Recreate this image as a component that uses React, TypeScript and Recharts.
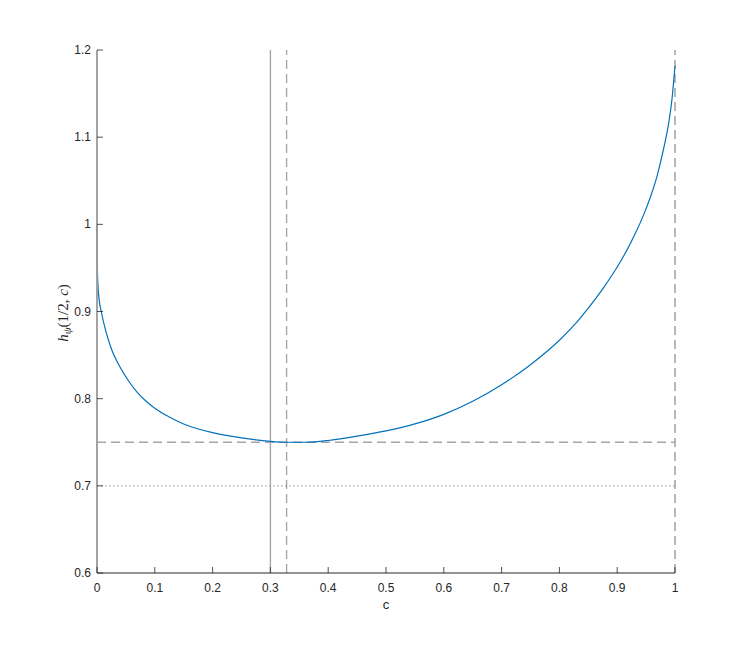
import { CartesianGrid, ComposedChart, Line, ReferenceLine, XAxis, YAxis } from "recharts";

// curve h_psi(1/2, c)
const cValues = [
  0, 0.0005, 0.0015, 0.0035, 0.008, 0.015, 0.025, 0.04, 0.055, 0.07, 0.085, 0.1, 0.125, 0.15, 0.2,
  0.25, 0.3, 0.33, 0.36, 0.4, 0.45, 0.5, 0.55, 0.6, 0.65, 0.7, 0.75, 0.8, 0.825, 0.85, 0.875, 0.9,
  0.925, 0.95, 0.97, 0.98, 0.99, 0.995, 1,
];
const hValues = [
  1.0, 0.955, 0.932, 0.915, 0.898, 0.878, 0.857, 0.836, 0.82, 0.807, 0.797, 0.789, 0.779, 0.771,
  0.761, 0.755, 0.751, 0.75, 0.75, 0.752, 0.757, 0.763, 0.771, 0.782, 0.797, 0.816, 0.839, 0.867,
  0.884, 0.904, 0.926, 0.951, 0.981, 1.018, 1.058, 1.086, 1.12, 1.145, 1.182,
];

const xTicks = [0, 0.1, 0.2, 0.3, 0.4, 0.5, 0.6, 0.7, 0.8, 0.9, 1];
const yTicks = [0.6, 0.7, 0.8, 0.9, 1, 1.1, 1.2];

const solidMarker = 0.3;
const dashedMarker = 0.328;
const dashedLevel = 0.75;
const dottedLevel = 0.7;

const data = cValues.map((c, i) => ({ c, h: hValues[i] }));

const AXIS = "#262626";
const GUIDE = "#a6a6a6";
const FONT = "'Liberation Sans', Arial, sans-serif";

function BottomTick({ x, y, payload }: any) {
  return (
    <g>
      <line x1={x} x2={x} y1={y} y2={y - 6} stroke={AXIS} strokeWidth={0.8} />
      <text x={x} y={y + 19} textAnchor="middle" fill={AXIS} fontSize={12} fontFamily={FONT}>
        {String(payload.value)}
      </text>
    </g>
  );
}

function TopTick({ x, y }: any) {
  return <line x1={x} x2={x} y1={y} y2={y + 6} stroke={AXIS} strokeWidth={0.8} />;
}

function LeftTick({ x, y, payload }: any) {
  return (
    <g>
      <line x1={x} x2={x + 6} y1={y} y2={y} stroke={AXIS} strokeWidth={0.8} />
      <text x={x - 6} y={y + 4} textAnchor="end" fill={AXIS} fontSize={12} fontFamily={FONT}>
        {String(payload.value)}
      </text>
    </g>
  );
}

function RightTick({ x, y }: any) {
  return <line x1={x} x2={x - 6} y1={y} y2={y} stroke={AXIS} strokeWidth={0.8} />;
}

export default function App() {
  return (
    <div style={{ position: "absolute", left: 0, top: 0, background: "#fff" }}>
      <ComposedChart
        width={747}
        height={645}
        data={data}
        margin={{ top: 50, right: 72, bottom: 0, left: 0 }}
      >
        <CartesianGrid stroke="none" />
        <XAxis
          xAxisId="bottom"
          type="number"
          dataKey="c"
          domain={[0, 1]}
          ticks={xTicks}
          height={72}
          tickSize={0}
          tickMargin={0}
          tickLine={false}
          axisLine={{ stroke: AXIS, strokeWidth: 1 }}
          tick={<BottomTick />}
          interval={0}
        />
        <XAxis
          xAxisId="top"
          orientation="top"
          type="number"
          domain={[0, 1]}
          ticks={xTicks}
          height={0}
          tickSize={0}
          tickMargin={0}
          tickLine={false}
          axisLine={{ stroke: AXIS, strokeWidth: 1 }}
          tick={<TopTick />}
          interval={0}
        />
        {/* the left edge is covered by a grey guide at c = 0 */}
        <YAxis
          yAxisId="left"
          type="number"
          domain={[0.6, 1.2]}
          ticks={yTicks}
          width={97}
          tickSize={0}
          tickMargin={0}
          tickLine={false}
          axisLine={{ stroke: "#9a9a9a", strokeWidth: 1.8 }}
          tick={<LeftTick />}
          interval={0}
        />
        <YAxis
          yAxisId="right"
          orientation="right"
          type="number"
          domain={[0.6, 1.2]}
          ticks={yTicks}
          width={0}
          tickSize={0}
          tickMargin={0}
          tickLine={false}
          axisLine={{ stroke: AXIS, strokeWidth: 1 }}
          tick={<RightTick />}
          interval={0}
        />

        <ReferenceLine xAxisId="bottom" yAxisId="left" x={solidMarker} stroke={GUIDE} strokeWidth={1.4} />
        <ReferenceLine
          xAxisId="bottom"
          yAxisId="left"
          x={dashedMarker}
          stroke={GUIDE}
          strokeWidth={1.4}
          strokeDasharray="9 5"
        />
        <ReferenceLine
          xAxisId="bottom"
          yAxisId="left"
          x={1}
          stroke={GUIDE}
          strokeWidth={1.6}
          strokeDasharray="9 5"
        />
        <ReferenceLine
          xAxisId="bottom"
          yAxisId="left"
          y={dashedLevel}
          stroke={GUIDE}
          strokeWidth={1.4}
          strokeDasharray="9 5"
        />
        <ReferenceLine
          xAxisId="bottom"
          yAxisId="left"
          y={dottedLevel}
          stroke={GUIDE}
          strokeWidth={1.2}
          strokeDasharray="1.5 2.5"
        />

        <Line
          xAxisId="bottom"
          yAxisId="left"
          type="monotone"
          dataKey="h"
          stroke="#0072BD"
          strokeWidth={1.2}
          dot={false}
          activeDot={false}
          isAnimationActive={false}
        />
      </ComposedChart>

      <div
        style={{
          position: "absolute",
          left: 386,
          top: 597,
          transform: "translateX(-50%)",
          fontFamily: FONT,
          fontSize: 13,
          color: AXIS,
        }}
      >
        c
      </div>
      <svg width={40} height={120} style={{ position: "absolute", left: 44, top: 255 }}>
        <text
          transform="translate(24,58) rotate(-90)"
          textAnchor="middle"
          fontFamily="'Liberation Serif', 'DejaVu Serif', serif"
          fontStyle="italic"
          fontSize={15}
          fill={AXIS}
        >
          h
          <tspan fontSize={11} dy={3}>
            ψ
          </tspan>
          <tspan dy={-3} fontStyle="normal">
            (1/2,{" "}
          </tspan>
          <tspan>c</tspan>
          <tspan fontStyle="normal">)</tspan>
        </text>
      </svg>
    </div>
  );
}
